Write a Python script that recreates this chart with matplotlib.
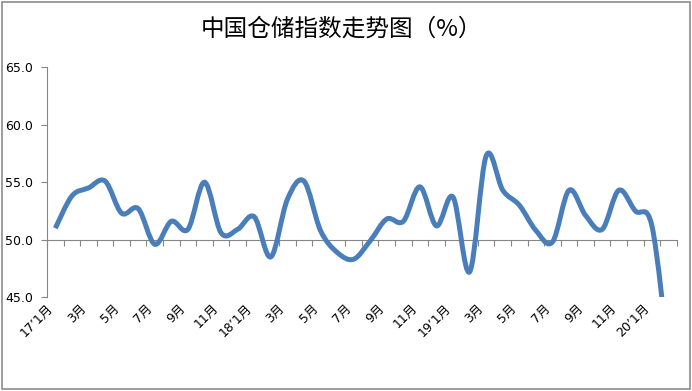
import matplotlib
matplotlib.use("Agg")
import matplotlib.pyplot as plt
from matplotlib.path import Path
from matplotlib.patches import PathPatch, Rectangle

# China storage index, monthly, Jan 2017 - Feb 2020 (%)
values = [
    51.0, 53.8, 54.5, 55.1, 52.3, 52.7, 49.6, 51.6, 50.9, 55.0, 50.6, 50.9,
    52.0, 48.5, 53.5, 55.1, 50.8, 48.9, 48.3, 49.9, 51.8, 51.6, 54.6, 51.2,
    53.7, 47.2, 57.3, 54.3, 53.0, 50.8, 49.8, 54.3, 52.1, 50.9, 54.3, 52.5,
    51.2, 39.9,
]
tick_labels = [
    "17’1月", "3月", "5月", "7月", "9月", "11月",
    "18’1月", "3月", "5月", "7月", "9月", "11月",
    "19’1月", "3月", "5月", "7月", "9月", "11月",
    "20’1月",
]
y_ticks = [45, 50, 55, 60, 65]

FONTS = ["DejaVu Sans", "Noto Sans CJK SC"]
LINE_COLOR = "#4a7ebb"
AXIS_COLOR = "#868686"


def smooth_path(ys):
    """Excel-style smoothed line as cubic Bezier segments."""
    n = len(ys)
    pts = [(float(i), ys[i]) for i in range(n)]
    verts = [pts[0]]
    codes = [Path.MOVETO]
    for i in range(n - 1):
        p0 = pts[max(i - 1, 0)]
        p1 = pts[i]
        p2 = pts[i + 1]
        p3 = pts[min(i + 2, n - 1)]
        c1 = (p1[0] + (p2[0] - p0[0]) / 6, p1[1] + (p2[1] - p0[1]) / 6)
        c2 = (p2[0] - (p3[0] - p1[0]) / 6, p2[1] - (p3[1] - p1[1]) / 6)
        verts += [c1, c2, p2]
        codes += [Path.CURVE4] * 3
    return Path(verts, codes)


fig = plt.figure(figsize=(6.92, 3.91), dpi=100)
ax = fig.add_axes([0.068, 0.240, 0.910, 0.588])

# Data line
patch = PathPatch(smooth_path(values), facecolor="none", edgecolor=LINE_COLOR,
                  lw=3.6, capstyle="butt", joinstyle="round")
ax.add_patch(patch)

ax.set_xlim(-0.5, len(values) - 0.5)
ax.set_ylim(45, 65)

# Y axis
ax.set_yticks(y_ticks)
ax.set_yticklabels([f"{v:.1f}" for v in y_ticks], fontsize=9, family=FONTS)
ax.tick_params(axis="y", direction="out", length=4, width=0.8, color=AXIS_COLOR, pad=6)
ax.spines["left"].set_color(AXIS_COLOR)
for side in ("top", "right", "bottom"):
    ax.spines[side].set_visible(False)

# Category labels at the bottom of the plot area
ax.set_xticks(range(0, len(values), 2))
ax.set_xticklabels(tick_labels, rotation=45, ha="right", va="top",
                   fontsize=9, family=FONTS)
ax.tick_params(axis="x", length=0, pad=3)

# Horizontal axis line crossing at 50 with category boundary ticks
cross = ax.secondary_xaxis((50 - 45) / (65 - 45))
cross.set_xticks([i - 0.5 for i in range(len(values) + 1)])
cross.set_xticklabels([])
cross.tick_params(direction="out", length=4, width=0.8, color=AXIS_COLOR)
cross.spines["bottom"].set_color(AXIS_COLOR)

fig.text(0.494, 0.925, "中国仓储指数走势图（%）", ha="center", va="center",
         fontsize=17, family=["Noto Sans CJK SC", "DejaVu Sans"])

# Chart area border
fig.add_artist(Rectangle((0.003, 0.004), 0.994, 0.992, transform=fig.transFigure,
                         fill=False, edgecolor="#8c8c8c", lw=1.2))

fig.savefig("out.png", dpi=100)
plt.close(fig)
